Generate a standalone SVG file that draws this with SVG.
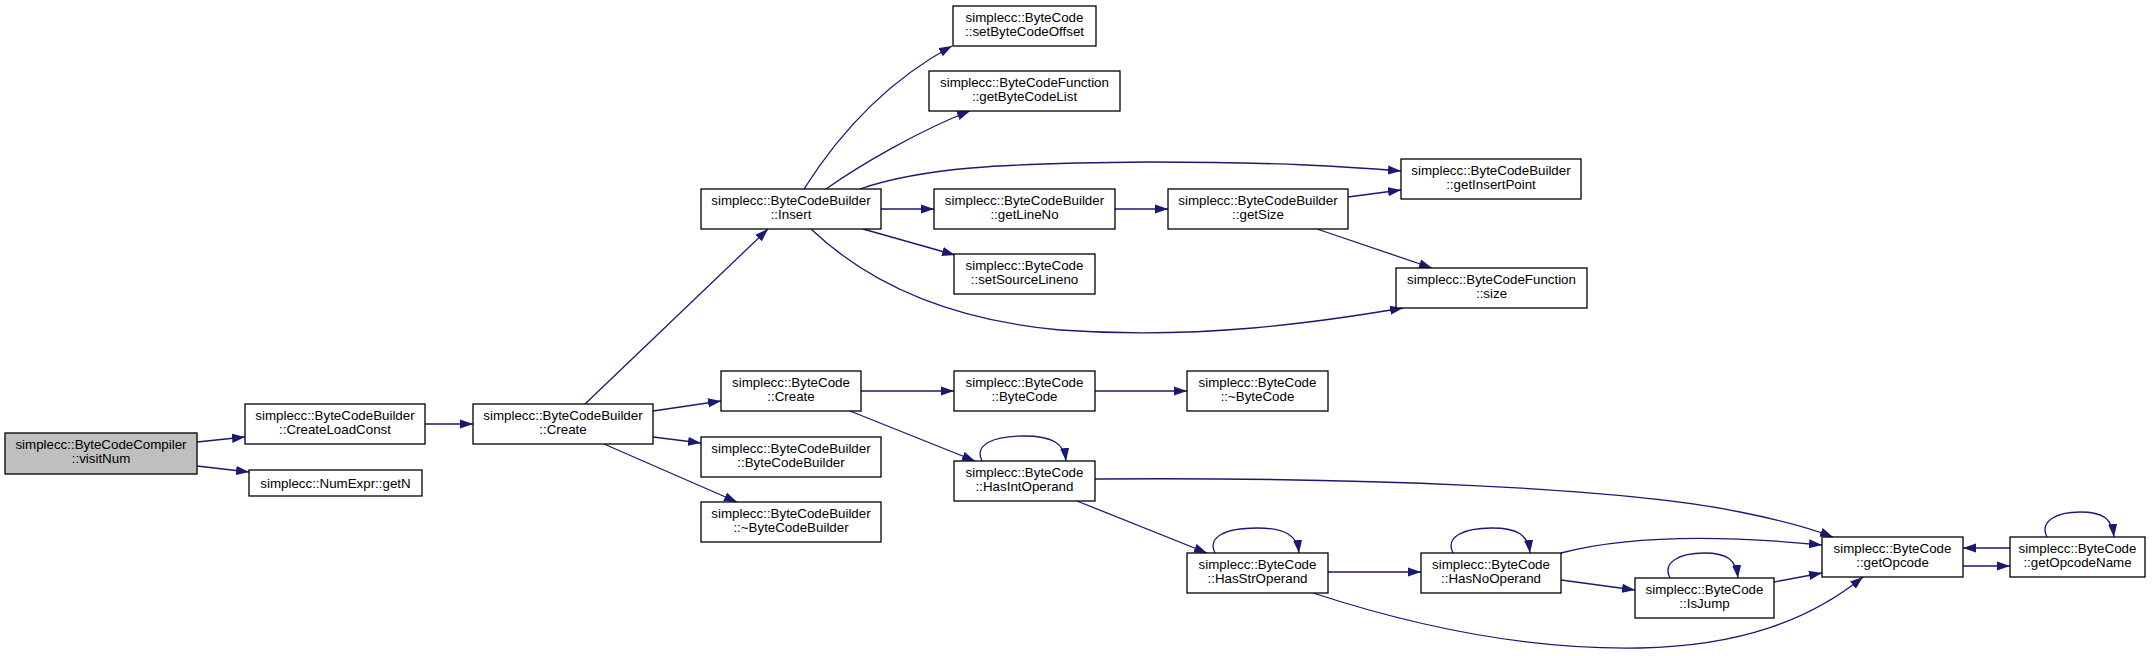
<svg xmlns="http://www.w3.org/2000/svg" width="2156" height="656" viewBox="0 0 2156 656">
<style>
.n rect{fill:#ffffff;stroke:#000000;stroke-width:1.3}
.n.root rect{fill:#bfbfbf}
.n text{font-family:"Liberation Sans",Arial,Helvetica,sans-serif;font-size:13.33px;text-anchor:middle;fill:#000000}
#edges path{fill:none;stroke:#191970;stroke-width:1.3;marker-end:url(#a)}
</style>
<defs>
<marker id="a" markerWidth="14" markerHeight="10" refX="13" refY="5" orient="auto" markerUnits="userSpaceOnUse">
<path d="M0,0.4 L13,5 L0,9.6 z" fill="#191970"/>
</marker>
</defs>
<rect width="2156" height="656" fill="#ffffff"/>
<g id="edges">
<path d="M197,442 L245,437"/>
<path d="M197,466 L249,472"/>
<path d="M425,424 L473,424"/>
<path d="M585,404 L768,229"/>
<path d="M653,411 L721,401"/>
<path d="M653,437 L701,443"/>
<path d="M604,444 L737,502"/>
<path d="M804,189 C835,140 880,85 952,46"/>
<path d="M826,189 C860,165 920,130 970,111"/>
<path d="M881,209 L934,209"/>
<path d="M863,229 L955,255"/>
<path d="M860,189 C920,168 1000,163 1150,162 C1280,162 1350,167 1401,171"/>
<path d="M811,229 C870,285 950,320 1060,330 C1200,340 1320,322 1403,308"/>
<path d="M1115,209 L1168,209"/>
<path d="M1348,197 L1401,190"/>
<path d="M1317,229 L1432,268"/>
<path d="M861,391 L954,391"/>
<path d="M850,411 L975,461"/>
<path d="M1095,391 L1187,391"/>
<path d="M982,461 C974,445 992,436 1024,436 C1052,436 1064,443 1066,461"/>
<path d="M1095,479 C1350,477 1620,487 1740,512 C1780,520 1810,528 1833,537"/>
<path d="M1077,501 L1207,553"/>
<path d="M1215,553 C1207,537 1225,528 1257,528 C1285,528 1297,535 1299,553"/>
<path d="M1328,572 L1421,572"/>
<path d="M1313,593 C1420,628 1530,650 1640,648 C1740,646 1810,620 1863,577"/>
<path d="M1453,553 C1445,537 1463,528 1492,528 C1518,528 1528,535 1530,553"/>
<path d="M1561,553 C1630,535 1720,535 1822,545"/>
<path d="M1561,580 L1635,590"/>
<path d="M1670,578 C1662,562 1680,553 1704,553 C1728,553 1736,560 1738,578"/>
<path d="M1774,582 L1822,573"/>
<path d="M1963,566 L2010,566"/>
<path d="M2010,548 L1963,548"/>
<path d="M2047,537 C2039,521 2057,512 2080,512 C2104,512 2112,519 2114,537"/>
</g>
<g id="n0" class="n root"><rect x="5" y="433" width="192" height="41"/><text x="101" y="449">simplecc::ByteCodeCompiler</text><text x="101" y="463">::visitNum</text></g>
<g id="n1" class="n"><rect x="245" y="404" width="180" height="40"/><text x="335" y="420">simplecc::ByteCodeBuilder</text><text x="335" y="434">::CreateLoadConst</text></g>
<g id="n2" class="n"><rect x="249" y="470" width="173" height="26"/><text x="335.5" y="487.5">simplecc::NumExpr::getN</text></g>
<g id="n3" class="n"><rect x="473" y="404" width="180" height="40"/><text x="563" y="420">simplecc::ByteCodeBuilder</text><text x="563" y="434">::Create</text></g>
<g id="n4" class="n"><rect x="701" y="189" width="180" height="40"/><text x="791" y="205">simplecc::ByteCodeBuilder</text><text x="791" y="219">::Insert</text></g>
<g id="n5" class="n"><rect x="721" y="371" width="140" height="40"/><text x="791" y="387">simplecc::ByteCode</text><text x="791" y="401">::Create</text></g>
<g id="n6" class="n"><rect x="701" y="437" width="180" height="40"/><text x="791" y="453">simplecc::ByteCodeBuilder</text><text x="791" y="467">::ByteCodeBuilder</text></g>
<g id="n7" class="n"><rect x="701" y="502" width="180" height="40"/><text x="791" y="518">simplecc::ByteCodeBuilder</text><text x="791" y="532">::~ByteCodeBuilder</text></g>
<g id="n8" class="n"><rect x="953" y="6" width="143" height="40"/><text x="1024.5" y="22">simplecc::ByteCode</text><text x="1024.5" y="36">::setByteCodeOffset</text></g>
<g id="n9" class="n"><rect x="929" y="71" width="191" height="40"/><text x="1024.5" y="87">simplecc::ByteCodeFunction</text><text x="1024.5" y="101">::getByteCodeList</text></g>
<g id="n10" class="n"><rect x="934" y="189" width="181" height="40"/><text x="1024.5" y="205">simplecc::ByteCodeBuilder</text><text x="1024.5" y="219">::getLineNo</text></g>
<g id="n11" class="n"><rect x="954" y="254" width="141" height="40"/><text x="1024.5" y="270">simplecc::ByteCode</text><text x="1024.5" y="284">::setSourceLineno</text></g>
<g id="n12" class="n"><rect x="954" y="371" width="141" height="40"/><text x="1024.5" y="387">simplecc::ByteCode</text><text x="1024.5" y="401">::ByteCode</text></g>
<g id="n13" class="n"><rect x="954" y="461" width="141" height="40"/><text x="1024.5" y="477">simplecc::ByteCode</text><text x="1024.5" y="491">::HasIntOperand</text></g>
<g id="n14" class="n"><rect x="1168" y="189" width="180" height="40"/><text x="1258" y="205">simplecc::ByteCodeBuilder</text><text x="1258" y="219">::getSize</text></g>
<g id="n15" class="n"><rect x="1187" y="371" width="141" height="40"/><text x="1257.5" y="387">simplecc::ByteCode</text><text x="1257.5" y="401">::~ByteCode</text></g>
<g id="n16" class="n"><rect x="1187" y="553" width="141" height="40"/><text x="1257.5" y="569">simplecc::ByteCode</text><text x="1257.5" y="583">::HasStrOperand</text></g>
<g id="n17" class="n"><rect x="1401" y="159" width="180" height="40"/><text x="1491" y="175">simplecc::ByteCodeBuilder</text><text x="1491" y="189">::getInsertPoint</text></g>
<g id="n18" class="n"><rect x="1396" y="268" width="191" height="40"/><text x="1491.5" y="284">simplecc::ByteCodeFunction</text><text x="1491.5" y="298">::size</text></g>
<g id="n19" class="n"><rect x="1421" y="553" width="140" height="40"/><text x="1491" y="569">simplecc::ByteCode</text><text x="1491" y="583">::HasNoOperand</text></g>
<g id="n20" class="n"><rect x="1635" y="578" width="139" height="40"/><text x="1704.5" y="594">simplecc::ByteCode</text><text x="1704.5" y="608">::IsJump</text></g>
<g id="n21" class="n"><rect x="1822" y="537" width="141" height="40"/><text x="1892.5" y="553">simplecc::ByteCode</text><text x="1892.5" y="567">::getOpcode</text></g>
<g id="n22" class="n"><rect x="2010" y="537" width="135" height="40"/><text x="2077.5" y="553">simplecc::ByteCode</text><text x="2077.5" y="567">::getOpcodeName</text></g>
</svg>
